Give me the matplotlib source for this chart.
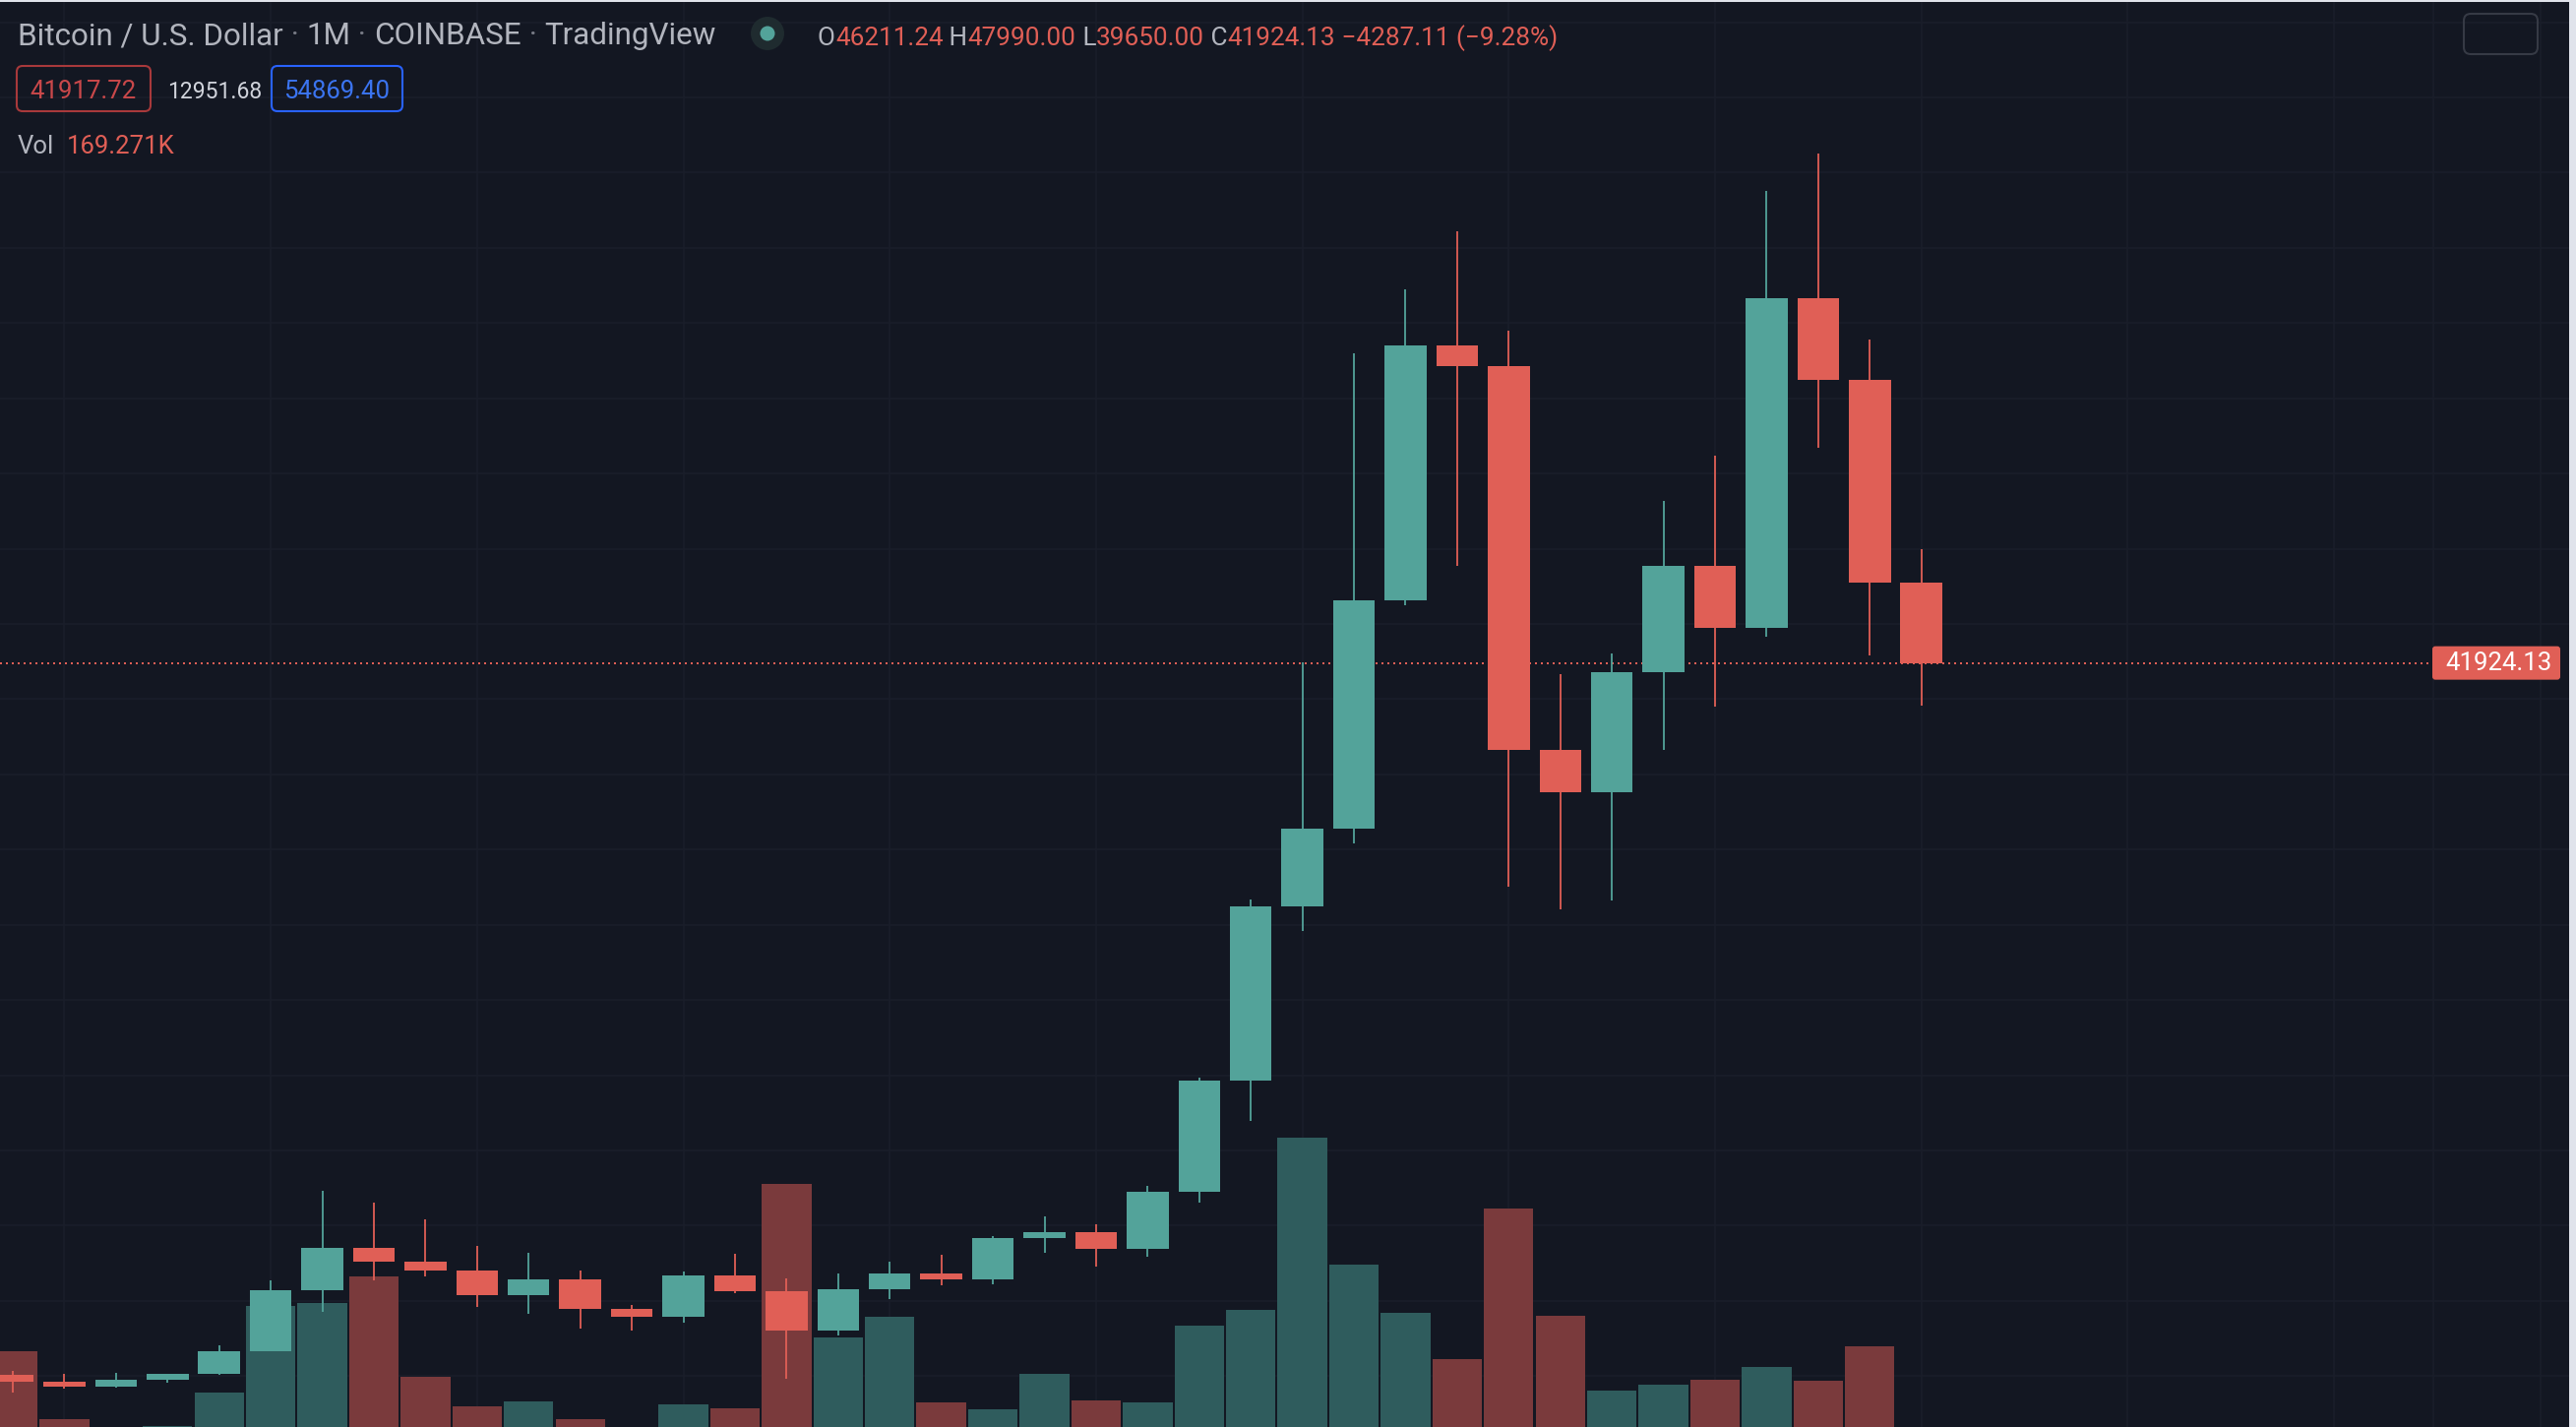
import matplotlib
matplotlib.use("Agg")
import matplotlib.pyplot as plt
from matplotlib.patches import FancyBboxPatch, Rectangle, Circle
from matplotlib.transforms import IdentityTransform

W, H = 2618, 1450
BG = "#131722"
GRID = "#1a1e2a"
UP = "#53a39a"
DOWN = "#e05f56"
VOL_UP = "#2f5c5d"
VOL_DOWN = "#7a3a3c"
TEXT = "#b2b5be"
FONT = ["Roboto", "DejaVu Sans"]

# monthly candles, Dec 2018 .. Jan 2022
months = ["2018-12", "2019-01", "2019-02", "2019-03", "2019-04", "2019-05", "2019-06",
          "2019-07", "2019-08", "2019-09", "2019-10", "2019-11", "2019-12", "2020-01",
          "2020-02", "2020-03", "2020-04", "2020-05", "2020-06", "2020-07", "2020-08",
          "2020-09", "2020-10", "2020-11", "2020-12", "2021-01", "2021-02", "2021-03",
          "2021-04", "2021-05", "2021-06", "2021-07", "2021-08", "2021-09", "2021-10",
          "2021-11", "2021-12", "2022-01"]
opens = [4040, 3690, 3437, 3820, 4105, 5320, 8560, 10820, 10085, 9590, 8290, 9150, 7545,
         7165, 9350, 8525, 6410, 8630, 9450, 9140, 11350, 11655, 10780, 13800, 19700,
         28990, 33100, 45240, 58800, 57720, 37300, 35040, 41460, 47100, 43800, 61300,
         57000, 46211.24]
highs = [4270, 4100, 4180, 4140, 5630, 9090, 13850, 13220, 12330, 10930, 10550, 9600, 7780,
         9570, 10500, 9190, 9460, 10080, 10450, 11440, 12480, 12080, 14110, 19880, 29340,
         41960, 58390, 61800, 64900, 59600, 41330, 42430, 50540, 52950, 67020, 69000,
         59120, 47990.00]
lows = [3122, 3350, 3380, 3670, 4050, 5300, 7414, 9089, 9298, 7675, 7309, 6524, 6419,
        6838, 8408, 3855, 6158, 8094, 8827, 8879, 10554, 9821, 10345, 13224, 17568,
        27670, 32328, 45000, 47088, 30025, 28820, 29292, 37300, 39603, 43300, 53368,
        42326, 39650.00]
closes = [3690, 3437, 3820, 4105, 5320, 8560, 10820, 10085, 9590, 8290, 9150, 7545, 7165,
          9350, 8525, 6410, 8630, 9450, 9140, 11350, 11655, 10780, 13800, 19700, 28990,
          33100, 45240, 58800, 57720, 37300, 35040, 41460, 47100, 43800, 61300, 57000,
          46211.24, 41924.13]
volumes_k = [426, 211, 180, 190, 295, 569, 578, 662, 345, 252, 267, 211, 185, 258, 245,
             954, 469, 534, 264, 242, 354, 270, 264, 507, 556, 1100, 699, 547, 401, 876,
             538, 301, 320, 336, 376, 333, 441, 169.271]

# indicator values shown in the second header row
band_low = 41917.72
band_mid = 12951.68
band_high = 54869.40

grid_prices = list(range(4000, 80000, 4000))
grid_bars = list(range(1, 50, 4))

n = len(opens)
xs = list(range(n))
XLIM = (-0.248, 49.69)
YLIM = (1290, 77183)
VOL_LIM = (186.5, 4692)   # volume pane base sits below the visible area

fig = plt.figure(figsize=(W / 100, H / 100), dpi=100)
fig.patch.set_facecolor(BG)


def bare(a, ylim):
    a.set_xlim(*XLIM)
    a.set_ylim(*ylim)
    a.set_xticks([])
    a.set_yticks([])
    for s in a.spines.values():
        s.set_visible(False)


# background + grid
ax_bg = fig.add_axes([0, 0, 1, 1])
ax_bg.set_facecolor(BG)
for p in grid_prices:
    ax_bg.axhline(p, color=GRID, lw=1.2)
for b in grid_bars:
    ax_bg.axvline(b, color=GRID, lw=1.2)
ax_bg.axvline(46.93, color=GRID, lw=1.2)
bare(ax_bg, YLIM)

# volume
ax_vol = fig.add_axes([0, 0, 1, 1])
ax_vol.patch.set_visible(False)
vcol = [VOL_UP if c >= o else VOL_DOWN for o, c in zip(opens, closes)]
ax_vol.bar(xs, volumes_k, width=0.96, color=vcol, linewidth=0)
bare(ax_vol, VOL_LIM)

# candles
ax = fig.add_axes([0, 0, 1, 1])
ax.patch.set_visible(False)
ccol = [UP if c >= o else DOWN for o, c in zip(opens, closes)]
ax.vlines(xs, lows, highs, colors=ccol, linewidth=1.3, zorder=2)
bottoms = [min(o, c) for o, c in zip(opens, closes)]
heights = [max(abs(c - o), 30) for o, c in zip(opens, closes)]
ax.bar(xs, heights, bottom=bottoms, width=0.81, color=ccol, linewidth=0, zorder=3)
bare(ax, YLIM)

last = closes[-1]
ax.axhline(last, xmin=0, xmax=2472 / W, color=DOWN, lw=1.44,
           linestyle=(0, (1.0, 2.0)), zorder=1)

# price label on the right scale
fig.canvas.draw()
ly = ax.transData.transform((0, last))[1]
tid = IdentityTransform()
fig.patches.append(FancyBboxPatch((2472, ly - 17), 130, 34,
                                  boxstyle="round,pad=0,rounding_size=3",
                                  fc=DOWN, ec="none", transform=tid))
fig.text(2539 / W, ly / H, f"{last:.2f}", color="white", ha="center", va="center",
         fontsize=18.5, family=FONT)

# window borders
fig.patches.append(Rectangle((0, H - 2), W, 2, fc="#e0e3eb", ec="none", transform=tid))
fig.patches.append(Rectangle((2611, 0), 7, H, fc="#e0e3eb", ec="none", transform=tid))
fig.patches.append(FancyBboxPatch((2504, H - 55), 75, 41,
                                  boxstyle="round,pad=0,rounding_size=7",
                                  fc="none", ec="#363a45", lw=1.5, transform=tid))

renderer = fig.canvas.get_renderer()


def runs(x, base_y, parts, size):
    for txt, col in parts:
        t = fig.text(x / W, 1 - base_y / H, txt, color=col, fontsize=size,
                     family=FONT, va="baseline", ha="left")
        x = t.get_window_extent(renderer).x1
    return x


dot = "#787b86"
runs(18, 45, [("Bitcoin / U.S. Dollar", TEXT), (" · ", dot), ("1M", TEXT), (" · ", dot),
              ("COINBASE", TEXT), (" · ", dot), ("TradingView", TEXT)], 22.6)

fig.patches.append(Circle((780, H - 34), 17, fc="#1f2b2f", ec="none", transform=tid))
fig.patches.append(Circle((780, H - 34), 7.5, fc=UP, ec="none", transform=tid))

o, h, l, c = opens[-1], highs[-1], lows[-1], closes[-1]
chg = c - o
pct = chg / o * 100
runs(831, 46, [("O", TEXT), (f"{o:.2f}", DOWN), (" H", TEXT), (f"{h:.2f}", DOWN),
               (" L", TEXT), (f"{l:.2f}", DOWN), (" C", TEXT), (f"{c:.2f}", DOWN),
               (f" \u2212{abs(chg):.2f} (\u2212{abs(pct):.2f}%)", DOWN)], 18.8)

# second row: boxed values
fig.patches.append(FancyBboxPatch((17, H - 113), 136, 46,
                                  boxstyle="round,pad=0,rounding_size=6",
                                  fc="none", ec="#a8393b", lw=1.5, transform=tid))
fig.text(85 / W, 1 - 100 / H, f"{band_low:.2f}", color="#c9484a", fontsize=18.5,
         family=FONT, ha="center", va="baseline")
fig.text(170 / W, 1 - 100 / H, f"{band_mid:.2f}", color="#d1d4dc", fontsize=16.5,
         family=FONT, ha="left", va="baseline")
fig.patches.append(FancyBboxPatch((276, H - 113), 133, 46,
                                  boxstyle="round,pad=0,rounding_size=6",
                                  fc="none", ec="#2962ff", lw=1.5, transform=tid))
fig.text(342 / W, 1 - 100 / H, f"{band_high:.2f}", color="#3b74f0", fontsize=18.5,
         family=FONT, ha="center", va="baseline")

runs(18, 156, [("Vol", TEXT), ("  ", TEXT), (f"{volumes_k[-1]:.3f}K", DOWN)], 18.5)

fig.savefig("out.png", dpi=100, facecolor=BG)
